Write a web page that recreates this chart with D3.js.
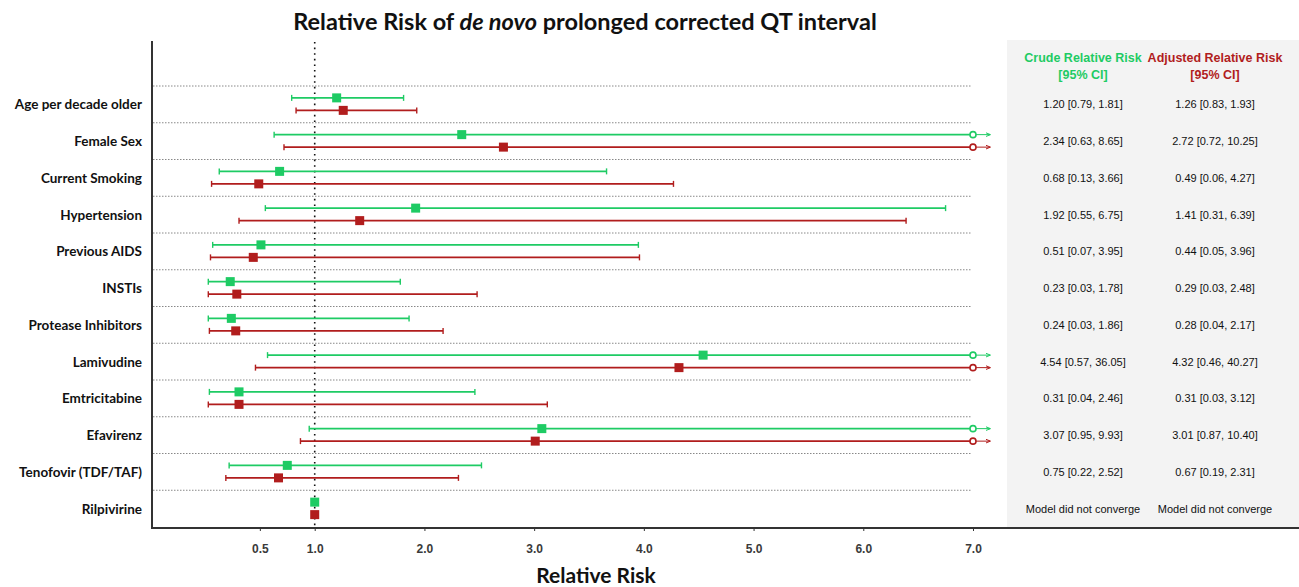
<!DOCTYPE html>
<html>
<head>
<meta charset="utf-8">
<script src="https://cdn.jsdelivr.net/npm/d3@7"></script>
<style>
  body { margin: 0; background: #fff; }
  svg text { font-family: Lato, "Open Sans", sans-serif; }
  .tab text { font-family: "Liberation Sans", Arial, sans-serif; }
</style>
</head>
<body>
<div id="chart"></div>
<script>
// data
const labels = ["Age per decade older", "Female Sex", "Current Smoking", "Hypertension",
  "Previous AIDS", "INSTIs", "Protease Inhibitors", "Lamivudine", "Emtricitabine",
  "Efavirenz", "Tenofovir (TDF/TAF)", "Rilpivirine"];
const crudeRR = [1.20, 2.34, 0.68, 1.92, 0.51, 0.23, 0.24, 4.54, 0.31, 3.07, 0.75, 1.0];
const crudeLo = [0.79, 0.63, 0.13, 0.55, 0.07, 0.03, 0.03, 0.57, 0.04, 0.95, 0.22, null];
const crudeHi = [1.81, 8.65, 3.66, 6.75, 3.95, 1.78, 1.86, 36.05, 2.46, 9.93, 2.52, null];
const adjRR = [1.26, 2.72, 0.49, 1.41, 0.44, 0.29, 0.28, 4.32, 0.31, 3.01, 0.67, 1.0];
const adjLo = [0.83, 0.72, 0.06, 0.31, 0.05, 0.03, 0.04, 0.46, 0.03, 0.87, 0.19, null];
const adjHi = [1.93, 10.25, 4.27, 6.39, 3.96, 2.48, 2.17, 40.27, 3.12, 10.40, 2.31, null];
const crudeText = ["1.20 [0.79, 1.81]", "2.34 [0.63, 8.65]", "0.68 [0.13, 3.66]", "1.92 [0.55, 6.75]",
  "0.51 [0.07, 3.95]", "0.23 [0.03, 1.78]", "0.24 [0.03, 1.86]", "4.54 [0.57, 36.05]",
  "0.31 [0.04, 2.46]", "3.07 [0.95, 9.93]", "0.75 [0.22, 2.52]", "Model did not converge"];
const adjText = ["1.26 [0.83, 1.93]", "2.72 [0.72, 10.25]", "0.49 [0.06, 4.27]", "1.41 [0.31, 6.39]",
  "0.44 [0.05, 3.96]", "0.29 [0.03, 2.48]", "0.28 [0.04, 2.17]", "4.32 [0.46, 40.27]",
  "0.31 [0.03, 3.12]", "3.01 [0.87, 10.40]", "0.67 [0.19, 2.31]", "Model did not converge"];
const xTicks = [0.5, 1, 2, 3, 4, 5, 6, 7];
const cap = 7.0;

const W = 1299, H = 587;
const green = "#1ecb64", red = "#b11d1d";

const svg = d3.select("#chart").append("svg")
  .attr("width", W).attr("height", H);

// scales
const x = d3.scaleLinear().domain([0, 7]).range([205, 973]);
const y = d3.scaleBand().domain(labels).range([86, 527]);

// grey table panel
svg.append("rect")
  .attr("x", 1007).attr("y", 40).attr("width", W - 1007).attr("height", 487)
  .attr("fill", "#f3f3f3");

// row separators
svg.append("g").selectAll("line").data(labels).join("line")
  .attr("x1", 153).attr("x2", 972)
  .attr("y1", d => y(d)).attr("y2", d => y(d))
  .attr("stroke", "#888").attr("stroke-width", 1).attr("stroke-dasharray", "1.5,1.5");

// reference line at RR = 1
svg.append("line")
  .attr("x1", x(1)).attr("x2", x(1)).attr("y1", 42).attr("y2", 527)
  .attr("stroke", "#111").attr("stroke-width", 1.6).attr("stroke-dasharray", "1.6,4");

// arrow markers
[["g", green], ["r", red]].forEach(([id, c]) => {
  svg.append("defs").append("marker")
    .attr("id", "arr" + id).attr("viewBox", "0 0 10 10")
    .attr("refX", 9).attr("refY", 5).attr("markerWidth", 5).attr("markerHeight", 5)
    .attr("orient", "auto")
    .append("path").attr("d", "M0,1 L10,5 L0,9").attr("fill", "none").attr("stroke", c).attr("stroke-width", 2);
});

function drawSeries(rr, lo, hi, color, dy, id) {
  const g = svg.append("g");
  labels.forEach((lab, i) => {
    const cy = y(lab) + y.bandwidth() / 2 + dy;
    if (lo[i] != null) {
      const xh = Math.min(hi[i], cap);
      g.append("line").attr("x1", x(lo[i])).attr("x2", x(xh)).attr("y1", cy).attr("y2", cy)
        .attr("stroke", color).attr("stroke-width", 1.6);
      g.append("line").attr("x1", x(lo[i])).attr("x2", x(lo[i])).attr("y1", cy - 3).attr("y2", cy + 3)
        .attr("stroke", color).attr("stroke-width", 1.4);
      if (hi[i] > cap) {
        g.append("line").attr("x1", x(cap) + 3).attr("x2", x(cap) + 17).attr("y1", cy).attr("y2", cy)
          .attr("stroke", color).attr("stroke-width", 1).attr("marker-end", "url(#arr" + id + ")");
        g.append("circle").attr("cx", x(cap)).attr("cy", cy).attr("r", 3)
          .attr("fill", "#fff").attr("stroke", color).attr("stroke-width", 1.6);
      } else {
        g.append("line").attr("x1", x(hi[i])).attr("x2", x(hi[i])).attr("y1", cy - 3).attr("y2", cy + 3)
          .attr("stroke", color).attr("stroke-width", 1.4);
      }
    }
    g.append("rect").attr("x", x(rr[i]) - 4.5).attr("y", cy - 4.5).attr("width", 9).attr("height", 9)
      .attr("fill", color);
  });
}
drawSeries(crudeRR, crudeLo, crudeHi, green, -6.5, "g");
drawSeries(adjRR, adjLo, adjHi, red, 6, "r");

// axes
const xAxis = d3.axisBottom(x).tickValues(xTicks).tickFormat(d3.format(".1f")).tickSize(3);
const xg = svg.append("g").attr("transform", "translate(0,528)").call(xAxis);
xg.select(".domain").remove();
xg.selectAll("text").attr("dy", "1.55em")
  .style("font-family", "'Liberation Sans', Arial, sans-serif")
  .style("font-weight", "bold").style("font-size", "12px").attr("fill", "#3a3a3a");
xg.selectAll(".tick line").attr("stroke", "#333");
svg.append("line").attr("x1", 151).attr("x2", W).attr("y1", 528).attr("y2", 528)
  .attr("stroke", "#333").attr("stroke-width", 2);
svg.append("line").attr("x1", 152).attr("x2", 152).attr("y1", 41).attr("y2", 529)
  .attr("stroke", "#333").attr("stroke-width", 2);

// y labels
svg.append("g").selectAll("text").data(labels).join("text")
  .attr("x", 142).attr("y", d => y(d) + y.bandwidth() / 2 + 5)
  .attr("text-anchor", "end").attr("font-weight", "bold").attr("font-size", "13.5px")
  .attr("fill", "#111").text(d => d);

// table
const tab = svg.append("g").attr("class", "tab");
[[1083, green, "Crude Relative Risk", crudeText], [1215, red, "Adjusted Relative Risk", adjText]]
  .forEach(([cx, c, head, vals]) => {
    tab.append("text").attr("x", cx).attr("y", 62).attr("text-anchor", "middle")
      .attr("font-weight", "bold").attr("font-size", "12.5px").attr("fill", c).text(head);
    tab.append("text").attr("x", cx).attr("y", 79).attr("text-anchor", "middle")
      .attr("font-weight", "bold").attr("font-size", "12.5px").attr("fill", c).text("[95% CI]");
    tab.selectAll(null).data(vals).join("text")
      .attr("x", cx).attr("y", (d, i) => y(labels[i]) + y.bandwidth() / 2 + 4)
      .attr("text-anchor", "middle").attr("font-size", "11px").attr("fill", "#111").text(d => d);
  });

// titles
const title = svg.append("text").attr("x", 585).attr("y", 30).attr("text-anchor", "middle")
  .attr("font-weight", "bold").attr("font-size", "23.5px").attr("fill", "#111");
title.append("tspan").text("Relative Risk of ");
title.append("tspan").attr("font-style", "italic").text("de novo");
title.append("tspan").text(" prolonged corrected QT interval");

svg.append("text").attr("x", 596).attr("y", 583).attr("text-anchor", "middle")
  .attr("font-weight", "bold").attr("font-size", "21px").attr("fill", "#111").text("Relative Risk");
</script>
</body>
</html>
